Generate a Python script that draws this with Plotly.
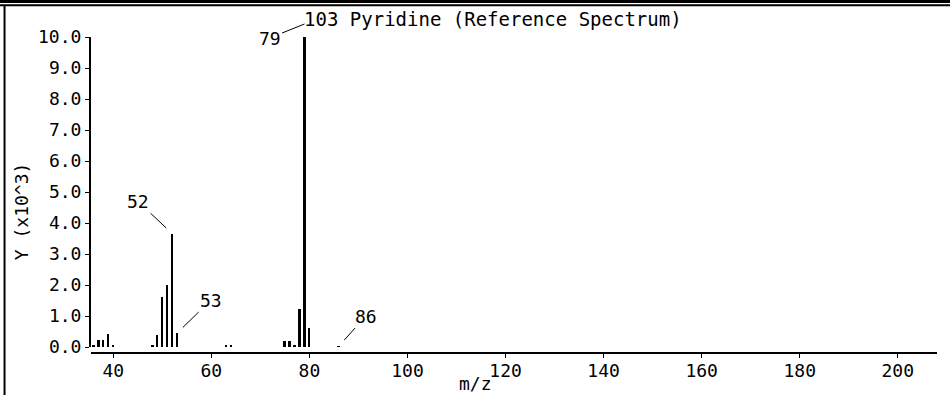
import plotly.graph_objects as go

# m/z values and intensities (x10^3)
mz = [36, 37, 38, 39, 40, 48, 49, 50, 51, 52, 53, 63, 64, 75, 76, 77, 78, 79, 80, 86]
intensity = [0.07, 0.24, 0.24, 0.43, 0.07, 0.07, 0.38, 1.62, 1.99, 3.66, 0.45,
             0.05, 0.07, 0.19, 0.19, 0.07, 1.24, 10.0, 0.62, 0.03]

x_ticks = [40, 60, 80, 100, 120, 140, 160, 180, 200]
y_ticks = [0, 1, 2, 3, 4, 5, 6, 7, 8, 9, 10]
y_ticklabels = [f"{v:.1f}" for v in y_ticks]

labeled_peaks = [52, 53, 79, 86]
label_offsets = {52: (-34, -32, 0, 8), 53: (34, -33, 0, 8), 79: (-35, 14, 13, 0), 86: (27, -30, 0, 8)}

title_text = "103 Pyridine (Reference Spectrum)"
FONT = "DejaVu Sans Mono"
FS = 18

fig = go.Figure()
fig.add_trace(go.Bar(x=mz, y=intensity, width=0.4,
                     marker=dict(color="black", line=dict(width=0)),
                     hoverinfo="x+y"))

annotations = []
for p in labeled_peaks:
    ax, ay, ysh, so = label_offsets[p]
    annotations.append(dict(x=p, y=intensity[mz.index(p)], xref="x", yref="y",
                            text=str(p), showarrow=True, arrowhead=0, arrowwidth=1,
                            arrowcolor="black", ax=ax, ay=ay, yshift=ysh, standoff=so,
                            font=dict(family=FONT, size=FS, color="black")))
annotations.append(dict(x=-0.0827, y=0.449, xref="paper", yref="paper", text="Y (x10^3)",
                        xanchor="center", yanchor="middle",
                        textangle=-90, showarrow=False,
                        font=dict(family=FONT, size=FS, color="black")))
annotations.append(dict(x=0.455, y=-0.095, xref="paper", yref="paper", text="m/z",
                        xanchor="center", yanchor="middle",
                        showarrow=False, font=dict(family=FONT, size=FS, color="black")))

# frame decoration (double rule on top, single rule on the left)
shapes = [
    dict(type="line", xref="paper", yref="paper", x0=-0.2, x1=1.1, y0=1.1123, y1=1.1123,
         line=dict(color="black", width=3)),
    dict(type="line", xref="paper", yref="paper", x0=-0.2, x1=1.1, y0=1.1002, y1=1.1002,
         line=dict(color="black", width=2)),
    dict(type="line", xref="paper", yref="paper", x0=-0.1022, x1=-0.1022, y0=1.0981, y1=-0.2,
         line=dict(color="black", width=2)),
]

fig.update_layout(
    width=950, height=395,
    margin=dict(l=91, r=13, t=37, b=42),
    paper_bgcolor="white", plot_bgcolor="white",
    showlegend=False,
    bargap=0,
    font=dict(family=FONT, size=FS, color="black"),
    title=dict(text=title_text, x=0.475, xref="paper", xanchor="center",
               y=0.952, yref="container", yanchor="middle",
               font=dict(family=FONT, size=19, color="black")),
    xaxis=dict(range=[35.45, 208.0], tickvals=x_ticks, ticks="outside", ticklen=4,
               tickwidth=1, tickcolor="black", showline=True, linecolor="black",
               linewidth=2, showgrid=False, zeroline=False, anchor="free", position=0,
               ticklabelstandoff=-3, automargin=False,
               tickfont=dict(family=FONT, size=FS, color="black")),
    yaxis=dict(range=[0, 10], domain=[0.019, 1], tickvals=y_ticks, ticktext=y_ticklabels,
               ticks="outside", ticklen=4, tickwidth=1, tickcolor="black",
               showline=True, linecolor="black", linewidth=2, showgrid=False,
               zeroline=False, automargin=False,
               tickfont=dict(family=FONT, size=FS, color="black")),
    annotations=annotations,
    shapes=shapes,
)

fig.write_html("out.html", config={"displayModeBar": False},
               post_script="document.body.style.margin='0px';document.body.style.overflow='hidden';")
